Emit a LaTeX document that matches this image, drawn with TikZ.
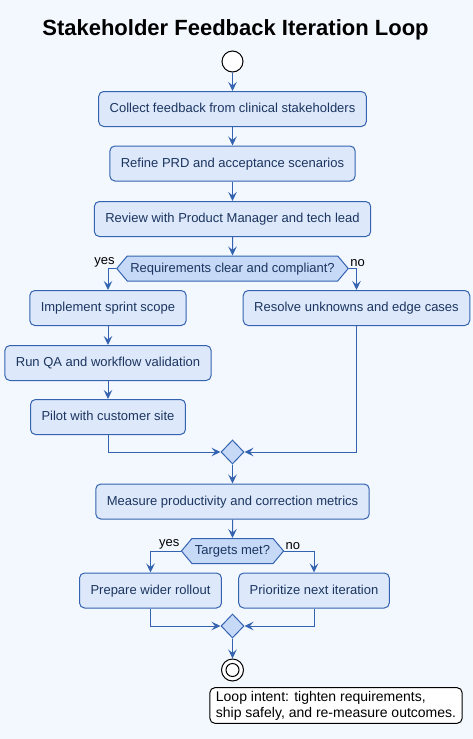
\documentclass[tikz,border=0pt]{standalone}
\usepackage{fontspec}
\setmainfont{Liberation Sans}
\usetikzlibrary{arrows.meta,shapes.geometric,shapes.symbols}
\definecolor{pagebg}{HTML}{F3F8FF}
\definecolor{actfill}{HTML}{DDE8FB}
\definecolor{decfill}{HTML}{C6DAF8}
\definecolor{actline}{HTML}{3463B0}
\definecolor{acttext}{HTML}{1B355F}
\tikzset{
  action/.style={draw=actline, fill=actfill, rounded corners=5pt, line width=1pt,
    text=acttext, font=\fontsize{13}{15}\selectfont, inner xsep=11pt, minimum height=35pt,
    text height=9.5pt, text depth=2.5pt},
  decision/.style={signal, signal to=east and west, signal pointer angle=100,
    draw=actline, fill=decfill, line width=1pt, text=acttext,
    font=\fontsize{13}{15}\selectfont, minimum height=25pt, inner xsep=3pt, inner ysep=0pt,
    text height=9.5pt, text depth=2.5pt},
  merge/.style={diamond, draw=actline, fill=decfill, line width=1pt,
    minimum width=23pt, minimum height=24pt, inner sep=0pt},
  flow/.style={draw=actline, line width=1pt, -{Stealth[length=9pt,width=8.5pt,inset=3.5pt]}},
  guard/.style={font=\fontsize{13}{15}\selectfont, inner sep=1pt}
}

\begin{document}
\begin{tikzpicture}[x=1pt, y=-1pt]
    \fill[pagebg] (0,0) rectangle (473,739);
    \useasboundingbox (0,0) rectangle (473,739);

    \node[font=\bfseries\fontsize{22}{26}\selectfont] (title) at (235.5,30) {Stakeholder Feedback Iteration Loop};

    % ---- main column
    \node[circle, draw=black, fill=white, line width=1pt, minimum size=21pt, inner sep=0pt] (start) at (232.5,61.5) {};
    \node[action] (collect) at (232.5,109) {Collect feedback from clinical stakeholders};
    \node[action] (refine) at (232.5,163.5) {Refine PRD and acceptance scenarios};
    \node[action] (review) at (232.5,219) {Review with Product Manager and tech lead};
    \node[decision] (reqok) at (232.5,268.5) {Requirements clear and compliant?};

    % ---- yes / no branches
    \node[action] (impl) at (108,308) {Implement sprint scope};
    \node[action] (runqa) at (108,363) {Run QA and workflow validation};
    \node[action] (pilot) at (108,417) {Pilot with customer site};
    \node[action] (resolve) at (356.5,308) {Resolve unknowns and edge cases};
    \node[merge] (join1) at (232.5,452) {};

    \node[action] (measure) at (232.5,501.5) {Measure productivity and correction metrics};
    \node[decision] (targets) at (232.5,551) {Targets met?};
    \node[action] (rollout) at (150.5,590.5) {Prepare wider rollout};
    \node[action] (nextit) at (314,590.5) {Prioritize next iteration};
    \node[merge] (join2) at (232.5,626) {};
    \node[circle, draw=black, fill=white, line width=1pt, minimum size=22pt, inner sep=0pt,
      path picture={\draw[line width=1pt] (path picture bounding box.center) circle (6.5pt);}] (stop) at (232.5,670) {};

    \node[draw=black, fill=white, rounded corners=5pt, line width=1pt, align=left, inner xsep=6pt,
      font=\fontsize{14}{16}\selectfont] (intent) at (336,705.5)
      {Loop intent: tighten requirements,\\ship safely, and re-measure outcomes.};

    % ---- connectors
    \draw[flow] (start) -- (collect);
    \draw[flow] (collect) -- (refine);
    \draw[flow] (refine) -- (review);
    \draw[flow] (review) -- (reqok);
    \draw[flow] (reqok.west) -| (impl.north) node[pos=0, guard, anchor=south east] {yes};
    \draw[flow] (reqok.east) -| (resolve.north) node[pos=0, guard, anchor=south west] {no};
    \draw[flow] (impl) -- (runqa);
    \draw[flow] (runqa) -- (pilot);
    \draw[flow] (pilot) |- (join1);
    \draw[flow] (resolve) |- (join1);
    \draw[flow] (join1) -- (measure);
    \draw[flow] (measure) -- (targets);
    \draw[flow] (targets.west) -| (rollout.north) node[pos=0, guard, anchor=south east] {yes};
    \draw[flow] (targets.east) -| (nextit.north) node[pos=0, guard, anchor=south west] {no};
    \draw[flow] (rollout) |- (join2);
    \draw[flow] (nextit) |- (join2);
    \draw[flow] (join2) -- (stop);
\end{tikzpicture}
\end{document}
